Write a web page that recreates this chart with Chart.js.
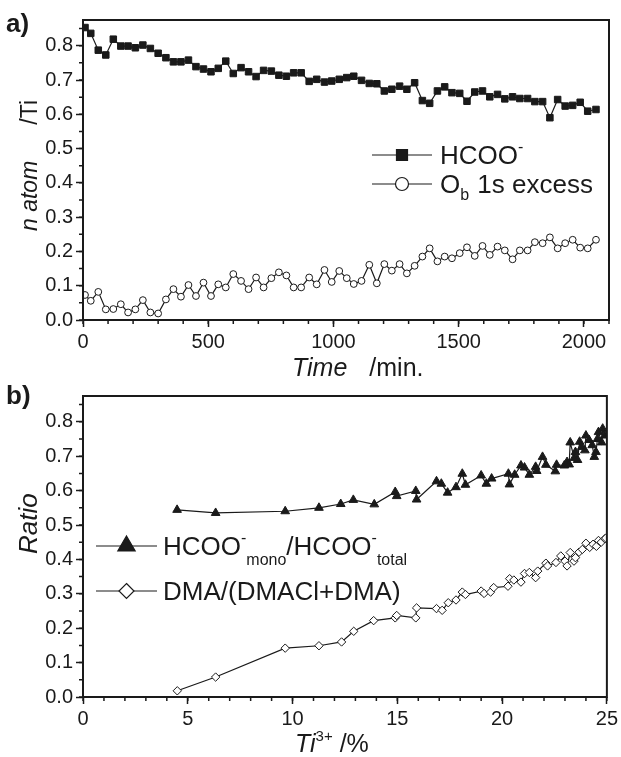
<!DOCTYPE html>
<html>
<head>
<meta charset="utf-8">
<script src="https://cdn.jsdelivr.net/npm/chart.js@4.4.1/dist/chart.umd.min.js"></script>
<style>
html,body{margin:0;padding:0;background:#fff;}
#wrap{position:relative;width:621px;height:757px;overflow:hidden;}
canvas{position:absolute;left:0;}
</style>
</head>
<body>
<div id="wrap">
<canvas id="chartA" width="621" height="378" style="top:0"></canvas>
<canvas id="chartB" width="621" height="379" style="top:378px"></canvas>
</div>
<script>
// ---- panel a) : time series ----
const timeMin = [8,31,61,91,121,151,180,209,239,269,300,331,361,391,421,451,481,511,540,570,
  600,631,661,691,721,752,782,812,841,871,903,933,964,993,1023,1053,1081,1112,1143,1173,
  1203,1233,1264,1293,1324,1355,1384,1415,1444,1473,1504,1533,1564,1595,1624,1655,1684,1715,1744,1775,
  1804,1835,1864,1895,1925,1955,1985,2015,2048];
const hcoo = [.853,.836,.787,.773,.819,.799,.799,.794,.802,.792,
  .778,.765,.753,.753,.758,.739,.732,.724,.734,.755,
  .719,.736,.724,.710,.728,.726,.714,.711,.721,.721,
  .696,.702,.694,.697,.702,.707,.711,.699,.690,.689,
  .668,.673,.682,.673,.692,.640,.632,.668,.680,.663,
  .661,.638,.665,.668,.651,.658,.645,.651,.646,.646,
  .637,.637,.590,.643,.624,.626,.635,.609,.614];
const obExcess = [.073,.056,.082,.031,.032,.046,.022,.031,.058,.022,
  .019,.060,.090,.068,.102,.070,.109,.070,.104,.095,
  .134,.114,.090,.124,.095,.122,.139,.130,.095,.095,
  .124,.104,.146,.111,.143,.122,.105,.114,.161,.107,
  .163,.144,.163,.136,.158,.185,.209,.171,.185,.180,
  .195,.212,.187,.216,.190,.214,.203,.177,.203,.203,
  .227,.224,.241,.209,.224,.234,.211,.209,.234];
const timeTicks = [0, 500, 1000, 1500, 2000];

// ---- panel b) : ratio vs Ti3+ ----
const tiMono = [4.49,6.33,9.65,11.26,12.3,12.9,13.9,14.9,14.97,15.88,15.92,16.87,17.1,17.4,17.8,18.1,18.25,
  19.0,19.25,19.5,20.3,20.35,20.6,20.9,21.07,21.3,21.6,21.65,21.93,22.09,22.54,22.6,22.97,23.1,23.2,
  23.25,23.44,23.5,23.6,23.7,23.8,23.95,24.0,24.15,24.3,24.4,24.48,24.55,24.6,24.75,24.8,24.9];
const ratioMono = [.544,.535,.540,.550,.561,.573,.560,.596,.584,.599,.574,.627,.620,.594,.610,.649,.617,
  .644,.620,.635,.649,.618,.646,.673,.667,.646,.669,.657,.698,.675,.656,.675,.673,.683,.676,
  .740,.695,.712,.689,.742,.727,.717,.760,.747,.732,.698,.712,.750,.770,.740,.780,.760];
const tiDma = [4.5,6.33,9.65,11.26,12.34,12.92,13.87,14.9,14.97,15.88,15.92,16.87,17.14,17.43,17.8,18.1,18.25,
  19.0,19.14,19.45,19.6,20.28,20.36,20.56,20.9,21.07,21.3,21.6,21.7,22.09,22.17,22.57,22.8,23.0,23.1,
  23.25,23.43,23.5,23.67,23.83,24.0,24.18,24.34,24.5,24.6,24.73,24.9,24.95];
const ratioDma = [.018,.058,.142,.149,.160,.191,.222,.230,.237,.230,.259,.257,.252,.274,.282,.305,.298,
  .308,.301,.305,.318,.322,.344,.340,.334,.359,.362,.347,.366,.389,.381,.391,.410,.395,.381,
  .420,.395,.405,.421,.429,.447,.435,.444,.438,.455,.450,.460,.462];
const tiTicks = [0, 5, 10, 15, 20, 25];
const ratioTicks = [0, 0.1, 0.2, 0.3, 0.4, 0.5, 0.6, 0.7, 0.8];

const FONT = "'Liberation Sans', Arial, Helvetica, sans-serif";
const INK = '#1a1a1a';

function pts(xs, ys){ return xs.map((x,i)=>({x:x, y:ys[i]})); }

// write text pieces one after another (for sub/superscripts, italics)
function runs(ctx, x, y, parts){
  parts.forEach(p=>{
    ctx.font = (p.st||'') + ' ' + p.sz + 'px ' + FONT;
    ctx.fillText(p.t, x, y + (p.dy||0));
    x += ctx.measureText(p.t).width + (p.gap||0);
  });
}

function mark(ctx, kind, x, y, r, fill){
  ctx.beginPath();
  if(kind==='rect') ctx.rect(x-r, y-r, 2*r, 2*r);
  else if(kind==='circle') ctx.arc(x, y, r, 0, Math.PI*2);
  else if(kind==='triangle'){
    ctx.moveTo(x, y-r);
    ctx.lineTo(x+r*0.866, y+r*0.5);
    ctx.lineTo(x-r*0.866, y+r*0.5);
    ctx.closePath();
  } else {
    ctx.moveTo(x, y-r); ctx.lineTo(x+r, y); ctx.lineTo(x, y+r); ctx.lineTo(x-r, y); ctx.closePath();
  }
  ctx.fillStyle = fill; ctx.fill();
  ctx.lineWidth = 1.2; ctx.strokeStyle = INK; ctx.stroke();
}

// frame, minor ticks, axis titles, legend, panel letter
const decor = {
  id: 'decor',
  afterDraw(chart, args, o){
    const ctx = chart.ctx, a = chart.chartArea;
    const xs = chart.scales.x, ys = chart.scales.y;
    ctx.save();
    ctx.strokeStyle = INK;
    ctx.lineWidth = 2;
    ctx.strokeRect(a.left, a.top, a.right-a.left, a.bottom-a.top);
    ctx.lineWidth = 1.5;
    ctx.beginPath();
    for(let v = xs.min; v <= xs.max + 1e-9; v += o.xMinor){
      const px = xs.getPixelForValue(v);
      ctx.moveTo(px, a.bottom); ctx.lineTo(px, a.bottom + 4);
    }
    for(let v = ys.min; v <= ys.max + 1e-9; v += o.yMinor){
      const py = ys.getPixelForValue(v);
      ctx.moveTo(a.left, py); ctx.lineTo(a.left - 4, py);
    }
    ctx.stroke();

    ctx.fillStyle = INK;
    ctx.textBaseline = 'alphabetic';
    // panel letter
    ctx.font = 'bold 26px ' + FONT;
    ctx.fillText(o.letter, 6, o.letterY);
    // x title
    runs(ctx, o.xTitle.x, o.xTitle.y, o.xTitle.parts);
    // y title (rotated)
    ctx.save();
    ctx.translate(o.yTitle.x, 0);
    ctx.rotate(-Math.PI/2);
    runs(ctx, -o.yTitle.y, 0, o.yTitle.parts);
    ctx.restore();
    // legend
    o.legend.forEach(L=>{
      ctx.strokeStyle = INK; ctx.lineWidth = 1.2;
      ctx.beginPath(); ctx.moveTo(o.lx0, L.y); ctx.lineTo(o.lx1, L.y); ctx.stroke();
      mark(ctx, L.kind, (o.lx0+o.lx1)/2, L.y, L.r, L.fill);
      ctx.fillStyle = INK;
      runs(ctx, o.tx, L.y + L.base, L.parts);
    });
    ctx.restore();
  }
};

function axes(xmin, xmax, xTicks, ymax, yw, xh){
  const tickFont = {family: FONT, size: 20};
  const gridOpt = {display:true, drawOnChartArea:false, drawTicks:true, tickLength:7, tickColor:INK, tickWidth:1.5};
  return {
    x: {type:'linear', min:xmin, max:xmax,
        ticks:{color:INK, font:tickFont, padding:3, maxRotation:0, autoSkip:false, callback:v=>String(v)},
        afterBuildTicks(s){ s.ticks = xTicks.map(v=>({value:v})); },
        grid:gridOpt,
        border:{display:true, color:INK, width:2},
        afterFit(s){ s.height = xh; }},
    y: {type:'linear', min:0, max:ymax,
        ticks:{color:INK, font:tickFont, padding:3, autoSkip:false, callback:v=>v.toFixed(1)},
        afterBuildTicks(s){ s.ticks = ratioTicks.map(v=>({value:v})); },
        grid:gridOpt,
        border:{display:true, color:INK, width:2},
        afterFit(s){ s.width = yw; }}
  };
}

Chart.defaults.font.family = FONT;

new Chart(document.getElementById('chartA'), {
  type: 'scatter',
  data: {datasets: [
    {label:'HCOO-', data: pts(timeMin, hcoo), showLine:true, borderColor:INK, borderWidth:1.2,
     pointStyle:'rect', pointRadius:4.6, pointBackgroundColor:INK, pointBorderColor:INK, pointBorderWidth:1},
    {label:'Ob 1s excess', data: pts(timeMin, obExcess), showLine:true, borderColor:INK, borderWidth:1.2,
     pointStyle:'circle', pointRadius:3.4, pointBackgroundColor:'#fff', pointBorderColor:INK, pointBorderWidth:1}
  ]},
  options: {
    responsive:false, animation:false, events:[],
    layout:{padding:{top:20, right:12, left:0, bottom:0}},
    scales: axes(0, 2100, timeTicks, 0.875, 83, 58),
    plugins: {
      legend:{display:false}, tooltip:{enabled:false},
      decor: {
        xMinor:100, yMinor:0.05, letter:'a)', letterY:32,
        xTitle:{x:292, y:376, parts:[{t:'Time', sz:25, st:'italic', gap:22},{t:'/min.', sz:25}]},
        yTitle:{x:37, y:231, parts:[{t:'n atom', sz:23, st:'italic', gap:36},{t:'/Ti', sz:23}]},
        lx0:372, lx1:432, tx:440,
        legend:[
          {y:155, kind:'rect', r:5.5, fill:INK, base:9,
           parts:[{t:'HCOO', sz:26},{t:'-', sz:16, dy:-12}]},
          {y:184, kind:'circle', r:6.5, fill:'#fff', base:9,
           parts:[{t:'O', sz:26},{t:'b', sz:16, dy:7, gap:1},{t:' 1s excess', sz:26}]}
        ]
      }
    }
  },
  plugins:[decor]
});

new Chart(document.getElementById('chartB'), {
  type: 'scatter',
  data: {datasets: [
    {label:'HCOO-mono/HCOO-total', data: pts(tiMono, ratioMono), showLine:true, borderColor:INK, borderWidth:1.2,
     pointStyle:'triangle', pointRadius:5, pointBackgroundColor:INK, pointBorderColor:INK, pointBorderWidth:1},
    {label:'DMA/(DMACl+DMA)', data: pts(tiDma, ratioDma), showLine:true, borderColor:INK, borderWidth:1.2,
     pointStyle:'rectRot', pointRadius:4.2, pointBackgroundColor:'#fff', pointBorderColor:INK, pointBorderWidth:1}
  ]},
  options: {
    responsive:false, animation:false, events:[],
    layout:{padding:{top:18, right:12, left:0, bottom:0}},
    scales: axes(0, 25, tiTicks, 0.875, 83, 60),
    plugins: {
      legend:{display:false}, tooltip:{enabled:false},
      decor: {
        xMinor:1, yMinor:0.05, letter:'b)', letterY:26,
        xTitle:{x:295, y:374, parts:[{t:'Ti', sz:25, st:'italic'},{t:'3+', sz:15, dy:-11},{t:' /%', sz:25}]},
        yTitle:{x:37, y:176, parts:[{t:'Ratio', sz:26, st:'italic'}]},
        lx0:96, lx1:157, tx:163,
        legend:[
          {y:168, kind:'triangle', r:10, fill:INK, base:9,
           parts:[{t:'HCOO', sz:26},{t:'-', sz:16, dy:-12},{t:'mono', sz:16, dy:10},
                  {t:'/HCOO', sz:26},{t:'-', sz:16, dy:-12},{t:'total', sz:16, dy:10}]},
          {y:213, kind:'diamond', r:7.5, fill:'#fff', base:9,
           parts:[{t:'DMA/(DMACl+DMA)', sz:26}]}
        ]
      }
    }
  },
  plugins:[decor]
});
</script>
</body>
</html>
